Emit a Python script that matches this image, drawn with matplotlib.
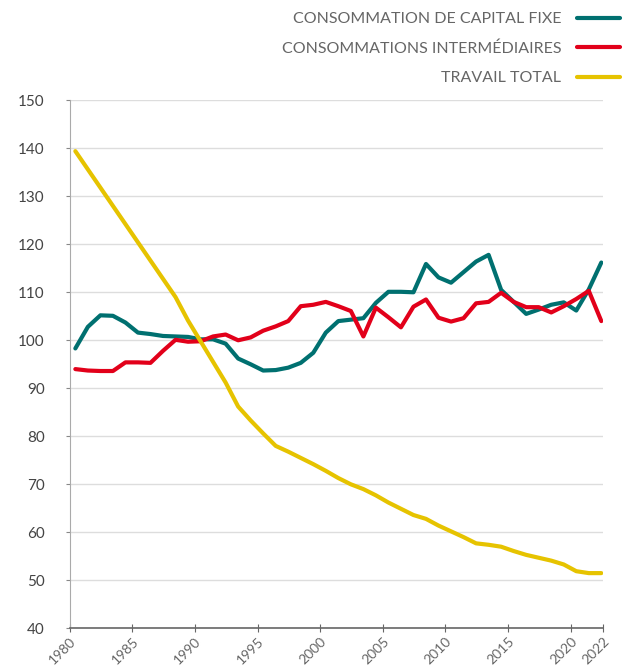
import matplotlib
matplotlib.use("Agg")
import matplotlib.pyplot as plt
import numpy as np

plt.rcParams['font.family'] = ['Lato', 'DejaVu Sans']

# Indices (base 100 en 1990)
annees = np.arange(1980, 2023)

capital_fixe = [98.3, 102.8, 105.2, 105.1, 103.7, 101.6, 101.3, 100.9, 100.8, 100.7,
                100.2, 100.2, 99.3, 96.2, 95.0, 93.7, 93.8, 94.3, 95.3, 97.4,
                101.6, 104.0, 104.3, 104.6, 107.8, 110.1, 110.1, 110.0, 115.9, 113.1,
                112.0, 114.2, 116.4, 117.8, 110.5, 108.0, 105.5, 106.4, 107.4, 107.9,
                106.2, 110.6, 116.2]

intermediaires = [94.0, 93.7, 93.6, 93.6, 95.4, 95.4, 95.3, 97.8, 100.1, 99.7,
                  99.8, 100.8, 101.2, 100.0, 100.6, 102.0, 102.9, 104.0, 107.1, 107.4,
                  108.0, 107.1, 106.1, 100.8, 106.8, 104.8, 102.7, 107.0, 108.5, 104.7,
                  103.9, 104.6, 107.7, 108.0, 109.9, 108.0, 106.9, 106.9, 105.8, 107.1,
                  108.6, 110.3, 104.0]

travail = [139.4, 135.6, 131.8, 128.0, 124.2, 120.4, 116.6, 112.8, 109.0, 104.1,
           99.8, 95.5, 91.2, 86.2, 83.3, 80.6, 78.0, 76.8, 75.5, 74.2,
           72.8, 71.3, 70.0, 69.0, 67.7, 66.2, 64.9, 63.6, 62.8, 61.4,
           60.2, 59.0, 57.7, 57.4, 57.0, 56.1, 55.3, 54.7, 54.1, 53.3,
           51.9, 51.5, 51.5]

labels = ["CONSOMMATION DE CAPITAL FIXE", "CONSOMMATIONS INTERMÉDIAIRES", "TRAVAIL TOTAL"]
couleurs = ["#007070", "#e2001a", "#e6c300"]

xtick_pos = [1980, 1985, 1990, 1995, 2000, 2005, 2010, 2015, 2020, 2022.56]
xtick_lab = ["1980", "1985", "1990", "1995", "2000", "2005", "2010", "2015", "2020", "2022"]

fig = plt.figure(figsize=(6.28, 6.68), dpi=100)
ax = fig.add_axes([0.111, 0.0594, 0.8487, 0.7905])

x = annees + 0.45  # points placés en milieu d'année
for serie, lab, c in zip([capital_fixe, intermediaires, travail], labels, couleurs):
    ax.plot(x, serie, color=c, lw=3, label=lab, solid_capstyle='round', solid_joinstyle='round')

ax.set_xlim(1980, 2022.56)
ax.set_ylim(40, 150)
ax.set_yticks(np.arange(40, 151, 10))
ax.set_xticks(xtick_pos)
ax.set_xticklabels(xtick_lab, rotation=45, ha='right', rotation_mode='anchor')

ax.grid(axis='y', color='#dddddd', lw=1)
ax.set_axisbelow(True)
for s in ['top', 'right']:
    ax.spines[s].set_visible(False)
ax.spines['left'].set_color('#aaaaaa')
ax.spines['bottom'].set_color('#666666')
ax.spines['bottom'].set_linewidth(1.2)

ax.tick_params(axis='y', direction='out', length=3, color='#888888', labelsize=11,
               labelcolor='#444444', pad=15)
ax.tick_params(axis='x', direction='inout', length=6, color='#666666', labelsize=10,
               labelcolor='#666666', pad=2)

fig.legend(loc='upper right', bbox_to_anchor=(0.988, 0.982), frameon=False,
           markerfirst=False, fontsize=11.5, handlelength=2.7, handletextpad=1.0,
           labelspacing=0.95, labelcolor='#666666', borderpad=0, borderaxespad=0)

plt.savefig("out.png", dpi=100)
